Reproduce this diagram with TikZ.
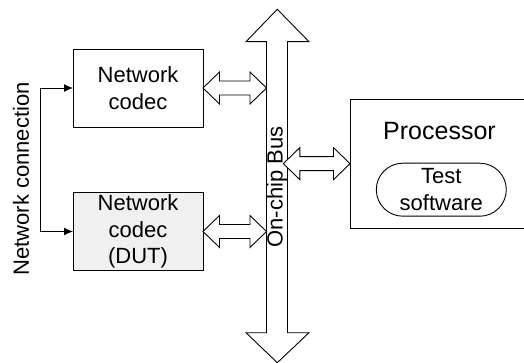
\documentclass[tikz,border=0pt]{standalone}
\usepackage{fontspec}
\setmainfont{Liberation Sans}
\usetikzlibrary{calc,arrows.meta,shapes.misc}
\definecolor{dutfill}{RGB}{240,240,240}
\newcommand\hdblarrow[2]{%
  \filldraw[fill=white] (#1) -- ($(#1)+(16.5,-16)$) -- ($(#1)+(16.5,-7)$) -- ($(#2)+(-16.5,-7)$) -- ($(#2)+(-16.5,-16)$) -- (#2)
    -- ($(#2)+(-16.5,16)$) -- ($(#2)+(-16.5,7)$) -- ($(#1)+(16.5,7)$) -- ($(#1)+(16.5,16)$) -- cycle;}
\begin{document}
\begin{tikzpicture}[x=1pt,y=-1pt,line width=0.9pt,
  font=\fontsize{22}{26.5}\selectfont,
  box/.style={draw,minimum width=130,minimum height=78,inner sep=0,outer sep=0,align=center},
  conn/.style={{Latex[length=9pt,width=8pt]}-{Latex[length=9pt,width=8pt]}}]
\useasboundingbox (0,0) rectangle (524,363);
% boxes
\node[box] (codec) at (138,88) {Network\\codec};
\node[box,fill=dutfill,minimum height=77.6] (dut) at (138,231.5) {Network\\codec\\(DUT)};
\node[draw,minimum width=200,minimum height=129.3,inner sep=0,outer sep=0,anchor=north west] (proc) at (350,99) {};
\node[font=\fontsize{25}{30}\selectfont] (proctext) at (439.5,131.5) {Processor};
\node[draw,shape=rounded rectangle,minimum width=130,minimum height=53,inner sep=0,align=center] (sw) at (441.3,189.7) {Test\\software};
% bus
\node[minimum width=21,minimum height=291,inner sep=0,outer sep=0] (bus) at (277,187.2) {};
\filldraw[fill=white] (277.3,9.3) -- (309,41.7) -- (287.5,41.7) -- (287.5,332.7) -- (309,332.7) -- (277.3,362.7)
  -- (246,332.7) -- (266.5,332.7) -- (266.5,41.7) -- (246,41.7) -- cycle;
% double arrows
\coordinate (c1) at (codec.east -| bus.west);
\coordinate (c2) at (dut.east -| bus.west);
\coordinate (c3) at ($(proc.west -| bus.east)+(-4.2,0)$);
\hdblarrow{codec.east}{c1}
\hdblarrow{dut.east}{c2}
\hdblarrow{c3}{proc.west}
\node[rotate=90] (bustext) at (277,187) {On-chip Bus};
% network connection
\coordinate (nc) at (40,88);
\draw[conn] (codec.west) -- (nc) |- (dut.west);
\node[rotate=90] (nctext) at (21,179) {Network connection};
\end{tikzpicture}
\end{document}
